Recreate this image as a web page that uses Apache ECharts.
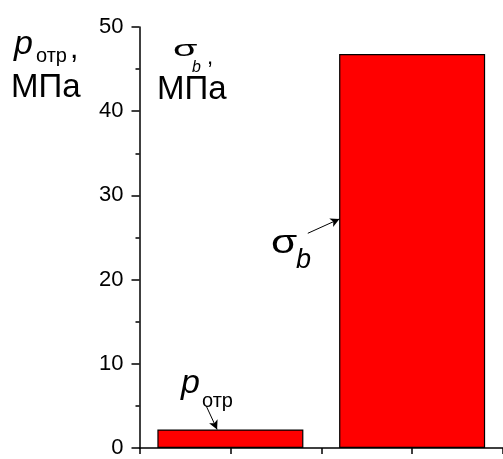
<!DOCTYPE html>
<html>
<head>
<meta charset="utf-8">
<script src="https://cdn.jsdelivr.net/npm/echarts@6/dist/echarts.min.js"></script>
<style>html,body{margin:0;padding:0;background:#fff;}#c{width:503px;height:459px;}</style>
</head>
<body>
<div id="c"></div>
<script>
// Data
const positions = [1, 2];            // bar positions on x (p_отр, σ_b)
const values = [2.2, 46.8];          // MPa
const yTicks = [0, 10, 20, 30, 40, 50];
// annotation arrows in data coordinates
const arrowP = [[0.867, 5.0], [0.927, 2.2]];
const arrowS = [[1.426, 25.5], [1.6, 27.2]];

const F = "'Liberation Sans', Arial, sans-serif";
const chart = echarts.init(document.getElementById('c'), null, {renderer: 'canvas'});

function txt(x, top, s, size, italic, sx) {
  const el = {
    type: 'text', x: x, y: top, silent: true,
    style: { text: s, font: (italic ? 'italic ' : '') + size + 'px ' + F, fill: '#000',
             textAlign: 'left', textVerticalAlign: 'top' }
  };
  if (sx) { el.scaleX = sx; }
  return el;
}

chart.setOption({
  animation: false,
  backgroundColor: '#fff',
  grid: { left: 139.5, top: 27, width: 366, height: 430, containLabel: false },
  xAxis: {
    type: 'value', min: 0.5, max: 2.5, interval: 0.5,
    axisLine: { show: true, onZero: false, lineStyle: { color: '#000', width: 1.5 } },
    axisTick: { show: true, length: 6, lineStyle: { color: '#000', width: 1.5 } },
    axisLabel: { show: false },
    splitLine: { show: false }
  },
  yAxis: {
    type: 'value', min: yTicks[0], max: yTicks[yTicks.length - 1], interval: 10,
    axisLine: { show: true, lineStyle: { color: '#000', width: 1.5 } },
    axisTick: { show: true, length: 8, lineStyle: { color: '#000', width: 1.5 } },
    minorTick: { show: true, splitNumber: 2, length: 4, lineStyle: { color: '#000', width: 1.5 } },
    axisLabel: { color: '#000', fontSize: 22, fontFamily: F, margin: 16 },
    splitLine: { show: false }
  },
  series: [{
    type: 'bar',
    data: positions.map((p, i) => [p, values[i]]),
    barWidth: 146,
    itemStyle: { color: '#ff0000', borderColor: '#000', borderWidth: 1.2 },
    markLine: {
      silent: true, animation: false,
      symbol: ['none', 'arrow'], symbolSize: [7, 9],
      label: { show: false },
      lineStyle: { color: '#000', width: 1, type: 'solid' },
      data: [
        [{ coord: arrowP[0] }, { coord: arrowP[1] }],
        [{ coord: arrowS[0] }, { coord: arrowS[1] }]
      ]
    }
  }],
  graphic: [
    txt(14, 28, 'p', 34, true),
    txt(36, 46, 'отр', 20, false),
    txt(70, 35, ',', 30, false),
    txt(11, 71, 'МПа', 33, false),
    txt(173, 39, 'σ', 22, false, 1.8),
    txt(192, 59.5, 'b', 16, true),
    txt(207, 47, ',', 22, false),
    txt(157, 73, 'МПа', 33, false),
    txt(271, 227, 'σ', 34, false, 1.25),
    txt(296, 247, 'b', 27, true),
    txt(181, 367, 'p', 34, true),
    txt(202, 391, 'отр', 20, false)
  ]
});
</script>
</body>
</html>
